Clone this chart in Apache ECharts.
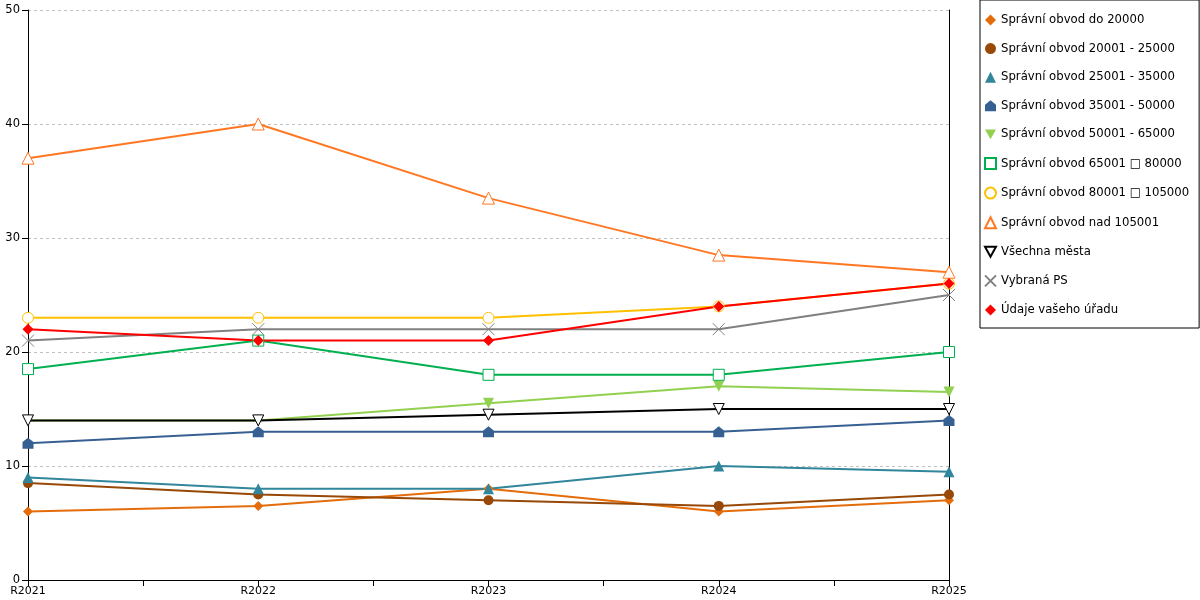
<!DOCTYPE html>
<html>
<head>
<meta charset="utf-8">
<script src="https://cdn.jsdelivr.net/npm/echarts@6/dist/echarts.min.js"></script>
<style>
  html, body { margin: 0; padding: 0; background: #fff; }
  #chart { width: 1200px; height: 600px; }
</style>
</head>
<body>
<div id="chart"></div>
<script>
// categories and values
const years = ['R2021', 'R2022', 'R2023', 'R2024', 'R2025'];

const names = [
  'Správní obvod do 20000',
  'Správní obvod 20001 - 25000',
  'Správní obvod 25001 - 35000',
  'Správní obvod 35001 - 50000',
  'Správní obvod 50001 - 65000',
  'Správní obvod 65001 □ 80000',
  'Správní obvod 80001 □ 105000',
  'Správní obvod nad 105001',
  'Všechna města',
  'Vybraná PS',
  'Údaje vašeho úřadu'
];

const do20000 = [6, 6.5, 8, 6, 7];
const s20001 = [8.5, 7.5, 7, 6.5, 7.5];
const s25001 = [9, 8, 8, 10, 9.5];
const s35001 = [12, 13, 13, 13, 14];
const s50001 = [14, 14, 15.5, 17, 16.5];
const s65001 = [18.5, 21, 18, 18, 20];
const s80001 = [23, 23, 23, 24, 26];
const nad105001 = [37, 40, 33.5, 28.5, 27];
const vsechnaMesta = [14, 14, 14.5, 15, 15];
const vybranaPS = [21, 22, 22, 22, 25];
const vasUrad = [22, 21, 21, 24, 26];

const yTicks = { min: 0, max: 50, interval: 10 };

const HOUSE = 'path://M5,0 L10,4 L10,10 L0,10 L0,4 Z';
const DOWN = 'path://M0,0 L10,0 L5,9 Z';
const CROSS = 'path://M0,0 L10,10 M10,0 L0,10';

// name, data, line colour, symbol, fill, size
const defs = [
  [names[0], do20000, '#E46C0A', 'diamond', null, 10],
  [names[1], s20001, '#984807', 'circle', null, 10],
  [names[2], s25001, '#31869B', 'triangle', null, 11],
  [names[3], s35001, '#376092', HOUSE, null, 11],
  [names[4], s50001, '#92D050', DOWN, null, 11],
  [names[5], s65001, '#00B050', 'rect', '#fff', 11],
  [names[6], s80001, '#FFC000', 'circle', '#fff', 11],
  [names[7], nad105001, '#FF7722', 'triangle', '#fff', 12],
  [names[8], vsechnaMesta, '#000000', DOWN, '#fff', 11],
  [names[9], vybranaPS, '#808080', CROSS, 'rgba(0,0,0,0)', 12],
  [names[10], vasUrad, '#FF0000', 'diamond', null, 11]
];

const series = defs.map(([name, vals, color, symbol, fill, size]) => ({
  name,
  type: 'line',
  data: vals.map((v, i) => [i, v]),
  symbol,
  symbolSize: size,
  lineStyle: { color, width: 2 },
  itemStyle: fill
    ? { color: fill, borderColor: color, borderWidth: 1 }
    : { color, borderColor: color, borderWidth: 0 },
  emphasis: { disabled: true }
}));

const chart = echarts.init(document.getElementById('chart'));
chart.setOption({
  animation: false,
  textStyle: { fontFamily: 'DejaVu Sans' },
  grid: { left: 28, right: 251, top: 10, bottom: 20 },
  legend: {
    orient: 'vertical',
    left: 980,
    top: 0,
    padding: [14, 10, 12, 4],
    itemWidth: 11,
    itemHeight: 11,
    itemGap: 16.6,
    borderColor: '#000',
    borderWidth: 1,
    textStyle: { fontSize: 11.7, lineHeight: 12, color: '#000', fontFamily: 'DejaVu Sans' },
    data: defs.map(d => ({ name: d[0], icon: d[3] }))
  },
  xAxis: {
    type: 'value',
    min: 0,
    max: years.length - 1,
    interval: 0.5,
    axisLine: { lineStyle: { color: '#000', width: 1 } },
    axisTick: { show: true, length: 6, lineStyle: { color: '#000' } },
    axisLabel: {
      color: '#000',
      fontSize: 11,
      margin: 6,
      formatter: v => (Number.isInteger(v) ? years[v] : '')
    },
    splitLine: { show: false }
  },
  yAxis: [
    {
      type: 'value',
      min: yTicks.min,
      max: yTicks.max,
      interval: yTicks.interval,
      axisLine: { show: true, lineStyle: { color: '#000', width: 1 } },
      axisTick: { show: true, length: 6, lineStyle: { color: '#000' } },
      axisLabel: { color: '#000', fontSize: 11.5, margin: 8 },
      splitLine: { show: true, lineStyle: { color: '#c0c0c0', type: [3, 3], width: 1 } }
    },
    {
      type: 'value',
      position: 'right',
      min: yTicks.min,
      max: yTicks.max,
      interval: yTicks.interval,
      axisLine: { show: true, lineStyle: { color: '#000', width: 1 } },
      axisTick: { show: false },
      axisLabel: { show: false },
      splitLine: { show: false }
    }
  ],
  series
});
</script>
</body>
</html>
